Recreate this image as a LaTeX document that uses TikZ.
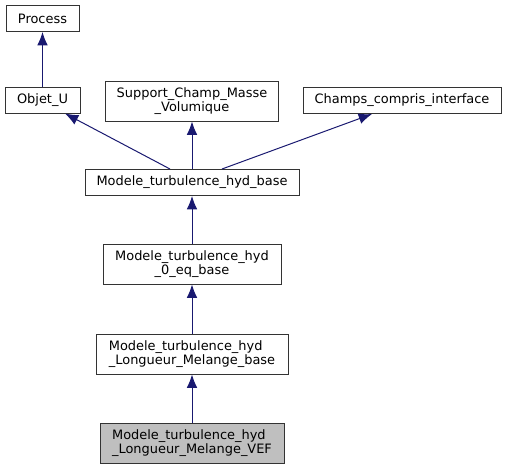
\documentclass[tikz,border=0pt]{standalone}
\usepackage{fontspec}
\setmainfont{DejaVu Sans}
\usetikzlibrary{arrows.meta}

\definecolor{edgeblue}{HTML}{191970}
\definecolor{leafgray}{HTML}{BFBFBF}

% one pixel of the reference is 0.75pt
\tikzset{
  cls/.style={draw=black!80, line width=0.75pt, inner sep=0pt, minimum height=26*0.75pt,
              font=\fontsize{9.7pt}{10pt}\selectfont},
  cls2/.style={cls, minimum height=40*0.75pt},
  edge/.style={draw=edgeblue, line width=0.75pt, -{Latex[length=10pt,width=8pt]}}
}

\begin{document}
\begin{tikzpicture}[x=0.75pt, y=-0.75pt]

  \useasboundingbox (0,0) rectangle (507,469);

  %                  x,y
  \node [cls, minimum width=73*0.75pt]  (process) at (42.5,18.5)  {Process};
  \node [cls, minimum width=75*0.75pt]  (objet)   at (42.5,100)   {Objet\_U};
  \node [cls2, minimum width=173*0.75pt, align=center] (support) at (192,101)
        {Support\_Champ\_Masse\\\_Volumique};
  \node [cls, minimum width=198*0.75pt] (champs)  at (402,100.5)  {Champs\_compris\_interface};

  \node [cls, minimum width=214*0.75pt] (base)    at (192,182.5)  {Modele\_turbulence\_hyd\_base};
  \node [cls2, minimum width=178*0.75pt, align=center] (zeroeq) at (192,264)
        {Modele\_turbulence\_hyd\\\_0\_eq\_base};
  \node [cls2, minimum width=192*0.75pt, align=left] (lmbase) at (192,354)
        {Modele\_turbulence\_hyd\\\_Longueur\_Melange\_base};
  \node [cls2, minimum width=184*0.75pt, align=left, fill=leafgray] (vef) at (192,443)
        {Modele\_turbulence\_hyd\\\_Longueur\_Melange\_VEF};

  \draw [edge] (objet) -- (process);
  \draw [edge] ([xshift=-22*0.75pt]base.north) -- ([xshift=22.5*0.75pt]objet.south);
  \draw [edge] (base) -- (support);
  \draw [edge] ([xshift=30*0.75pt]base.north) -- ([xshift=-30*0.75pt]champs.south);
  \draw [edge] (zeroeq) -- (base);
  \draw [edge] (lmbase) -- (zeroeq);
  \draw [edge] (vef) -- (lmbase);

\end{tikzpicture}
\end{document}
